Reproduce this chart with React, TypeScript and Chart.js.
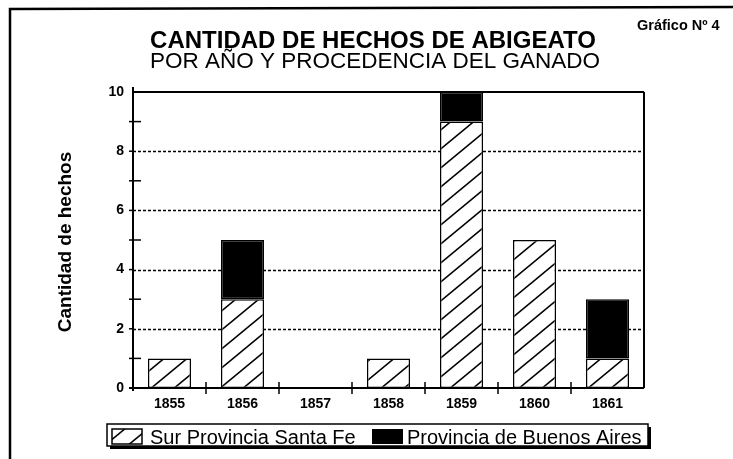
import { useEffect, useRef } from 'react';
import { Chart, registerables } from 'chart.js';

Chart.register(...registerables);

const years = ['1855', '1856', '1857', '1858', '1859', '1860', '1861'];
const surSantaFe = [1, 3, 0, 1, 9, 5, 1];
const buenosAires = [0, 2, 0, 0, 1, 0, 2];
const seriesNames = ['Sur Provincia Santa Fe', 'Provincia de Buenos Aires'];
const yMax = 10;
const yStep = 2;
const titleText = 'CANTIDAD DE HECHOS DE ABIGEATO';
const subtitleText = 'POR AÑO Y PROCEDENCIA DEL GANADO';
const yAxisTitle = 'Cantidad de hechos';
const cornerLabel = 'Gráfico Nº 4';

const FONT = '"Liberation Sans", Arial, Helvetica, sans-serif';

function makeHatch(ctx: CanvasRenderingContext2D): CanvasPattern | string {
  const W = 23;
  const H = 19;
  const c = document.createElement('canvas');
  c.width = W;
  c.height = H;
  const g = c.getContext('2d');
  if (!g) return '#fff';
  g.fillStyle = '#fff';
  g.fillRect(0, 0, W, H);
  g.strokeStyle = '#000';
  g.lineWidth = 1.6;
  const line = (dx: number) => {
    g.beginPath();
    g.moveTo(dx - W, 2 * H);
    g.lineTo(dx + 2 * W, -H);
    g.stroke();
  };
  line(0);
  line(W);
  line(-W);
  return ctx.createPattern(c, 'repeat') || '#fff';
}

const decor = {
  id: 'decor',
  beforeDraw(chart: any) {
    const ctx = chart.ctx as CanvasRenderingContext2D;
    ctx.save();
    ctx.fillStyle = '#fff';
    ctx.fillRect(0, 0, chart.width, chart.height);
    ctx.restore();
  },
  beforeDatasetsDraw(chart: any) {
    const ctx = chart.ctx as CanvasRenderingContext2D;
    const { left, right } = chart.chartArea;
    const y = chart.scales.y;
    ctx.save();
    ctx.strokeStyle = '#000';
    ctx.lineWidth = 1.5;
    ctx.setLineDash([3, 2]);
    for (let v = yStep; v < yMax; v += yStep) {
      const py = Math.round(y.getPixelForValue(v)) + 0.5;
      ctx.beginPath();
      ctx.moveTo(left, py);
      ctx.lineTo(right, py);
      ctx.stroke();
    }
    ctx.restore();
  },
  afterDraw(chart: any) {
    const ctx = chart.ctx as CanvasRenderingContext2D;
    const { left, right, top, bottom } = chart.chartArea;
    const x = chart.scales.x;
    const y = chart.scales.y;
    ctx.save();
    ctx.strokeStyle = '#000';
    ctx.fillStyle = '#000';
    ctx.setLineDash([]);

    // axes & borders
    ctx.lineWidth = 2;
    ctx.beginPath();
    ctx.moveTo(left, top - 5);
    ctx.lineTo(left, bottom + 3);
    ctx.moveTo(left - 4, bottom);
    ctx.lineTo(right, bottom);
    ctx.moveTo(left, top);
    ctx.lineTo(right, top);
    ctx.moveTo(right, top);
    ctx.lineTo(right, bottom);
    ctx.stroke();

    // y ticks at each integer
    ctx.lineWidth = 1.5;
    for (let v = 1; v < yMax; v++) {
      const py = y.getPixelForValue(v);
      ctx.beginPath();
      if (v % yStep === 1) {
        ctx.moveTo(left - 4, py);
        ctx.lineTo(left + 8, py);
      } else {
        ctx.moveTo(left - 4, py);
        ctx.lineTo(left, py);
      }
      ctx.stroke();
    }
    // x ticks at category boundaries
    for (let i = 1; i < years.length; i++) {
      const px = (x.getPixelForValue(i - 1) + x.getPixelForValue(i)) / 2;
      ctx.beginPath();
      ctx.moveTo(px, bottom - 6);
      ctx.lineTo(px, bottom + 6);
      ctx.stroke();
    }

    // outer frame
    ctx.lineWidth = 2.5;
    ctx.beginPath();
    ctx.moveTo(10, chart.height);
    ctx.lineTo(10, 9);
    ctx.lineTo(chart.width, 7);
    ctx.stroke();

    // titles
    ctx.textAlign = 'center';
    ctx.textBaseline = 'alphabetic';
    ctx.font = `bold 24px ${FONT}`;
    ctx.fillText(titleText, 373, 48);
    ctx.font = `22.5px ${FONT}`;
    ctx.fillText(subtitleText, 375, 68);

    ctx.textAlign = 'left';
    ctx.font = `bold 14.5px ${FONT}`;
    ctx.fillText(cornerLabel, 637, 30);

    // y axis title
    ctx.save();
    ctx.translate(66, 242);
    ctx.rotate(-Math.PI / 2);
    ctx.textAlign = 'center';
    ctx.textBaseline = 'middle';
    ctx.font = `bold 19px ${FONT}`;
    ctx.fillText(yAxisTitle, 0, 0);
    ctx.restore();

    // legend
    const lx = 107, ly = 424, lw = 541, lh = 22;
    ctx.fillStyle = '#000';
    ctx.fillRect(lx + 3, ly + 3, lw, lh);
    ctx.fillStyle = '#fff';
    ctx.fillRect(lx, ly, lw, lh);
    ctx.lineWidth = 1.5;
    ctx.strokeRect(lx, ly, lw, lh);

    const ds0 = chart.data.datasets[0];
    ctx.fillStyle = ds0.backgroundColor;
    ctx.fillRect(112, 429, 30, 15);
    ctx.strokeRect(112, 429, 30, 15);
    ctx.fillStyle = '#000';
    ctx.fillRect(372, 429, 31, 15);

    ctx.font = `20px ${FONT}`;
    ctx.textAlign = 'left';
    ctx.textBaseline = 'alphabetic';
    ctx.fillText(seriesNames[0], 150, 444);
    ctx.fillText(seriesNames[1], 407, 444);

    ctx.restore();
  },
};

export default function App() {
  const ref = useRef<HTMLCanvasElement>(null);
  useEffect(() => {
    const canvas = ref.current;
    if (!canvas) return;
    const ctx = canvas.getContext('2d');
    if (!ctx) return;
    const hatch = makeHatch(ctx);
    const tickFont = { family: FONT, size: 14, weight: 'bold' as const };
    const chart = new Chart(canvas, {
      type: 'bar',
      data: {
        labels: years,
        datasets: [
          {
            label: seriesNames[0],
            data: surSantaFe,
            backgroundColor: hatch as any,
            borderColor: '#000',
            borderWidth: 1.5,
            borderSkipped: false,
            barPercentage: 0.59,
            categoryPercentage: 1,
          },
          {
            label: seriesNames[1],
            data: buenosAires,
            backgroundColor: '#000',
            borderColor: '#000',
            borderWidth: 1.5,
            borderSkipped: false,
            barPercentage: 0.59,
            categoryPercentage: 1,
          },
        ],
      },
      options: {
        responsive: false,
        animation: false,
        devicePixelRatio: 1,
        layout: { padding: { left: 0, top: 92, right: 89, bottom: 0 } },
        plugins: {
          legend: { display: false },
          title: { display: false },
          tooltip: { enabled: false },
        },
        scales: {
          x: {
            stacked: true,
            grid: { display: false, drawTicks: false },
            border: { display: false },
            ticks: { color: '#000', font: tickFont, padding: 8, maxRotation: 0 },
            afterFit: (s: any) => { s.height = 71; },
          },
          y: {
            stacked: true,
            min: 0,
            max: yMax,
            grid: { display: false, drawTicks: false },
            border: { display: false },
            ticks: { stepSize: yStep, color: '#000', font: tickFont, padding: 9 },
            afterFit: (s: any) => { s.width = 133; },
          },
        },
      },
      plugins: [decor],
    });
    return () => chart.destroy();
  }, []);
  return (
    <div style={{ position: 'absolute', left: 0, top: 0, width: 733, height: 459, background: '#fff' }}>
      <canvas ref={ref} width={733} height={459} style={{ display: 'block', width: 733, height: 459 }} />
    </div>
  );
}
